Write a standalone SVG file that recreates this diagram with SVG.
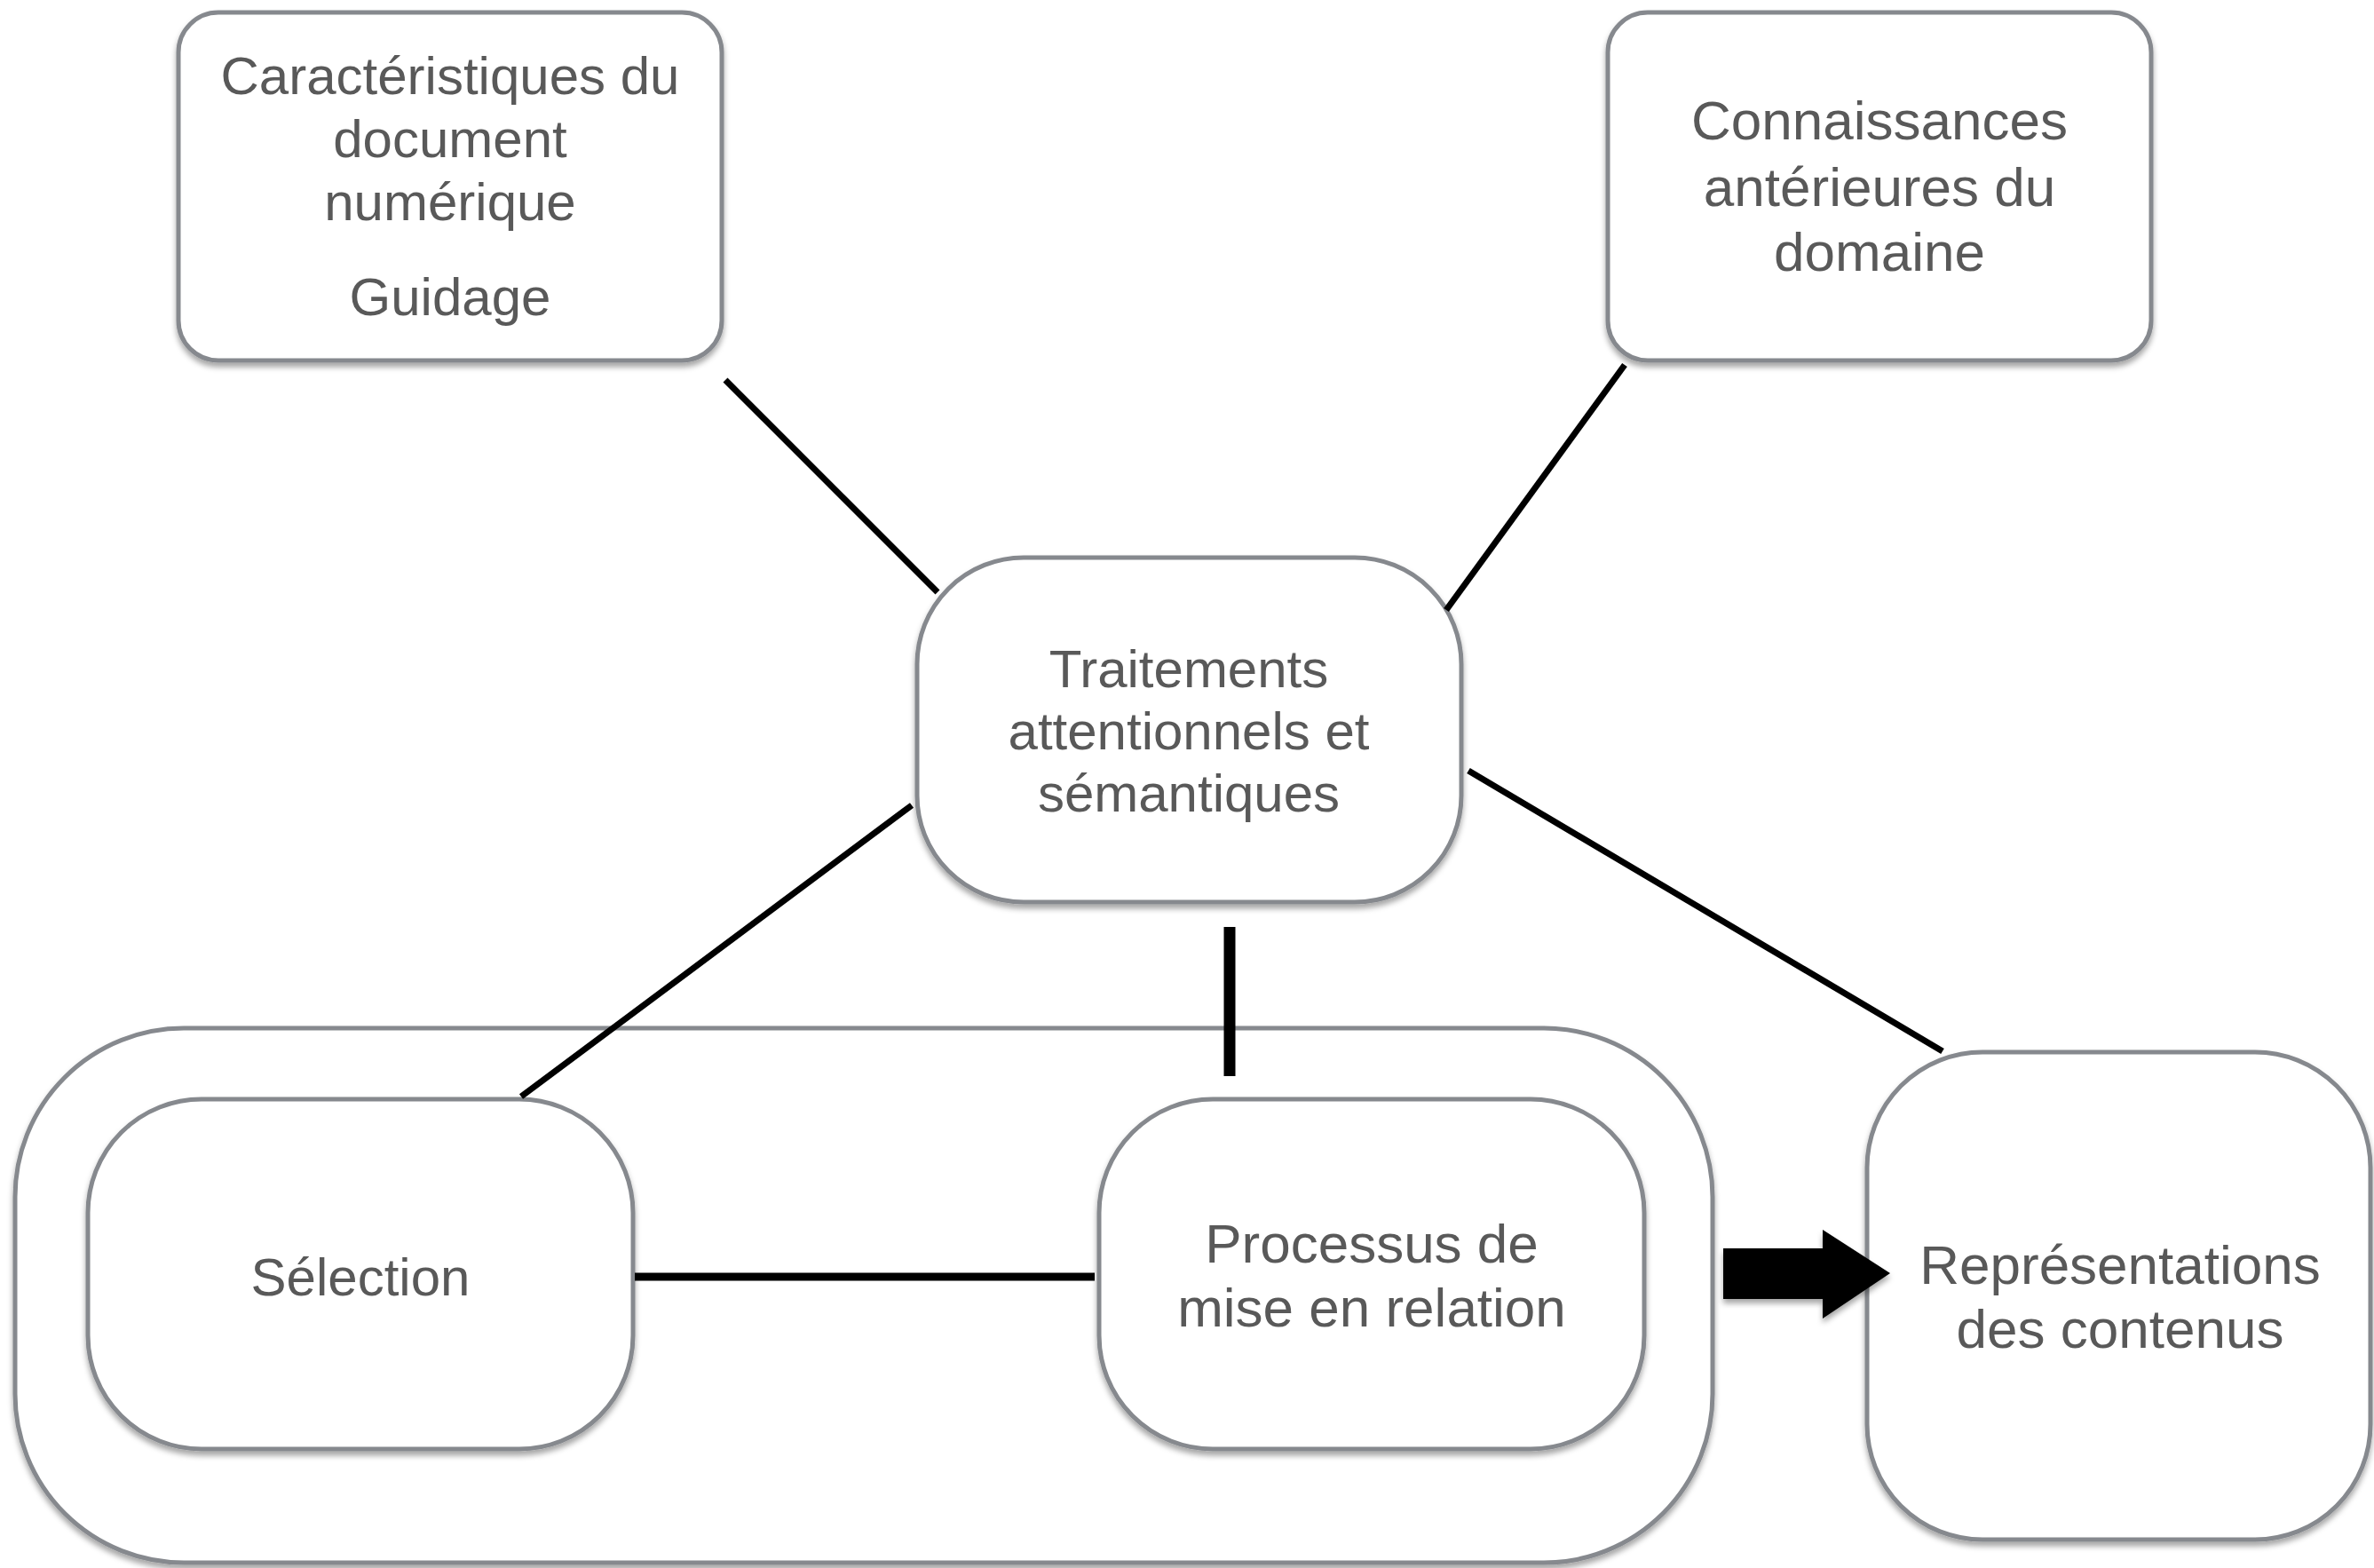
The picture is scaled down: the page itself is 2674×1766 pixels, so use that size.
<svg xmlns="http://www.w3.org/2000/svg" width="2674" height="1766" viewBox="0 0 2674 1766">
  <style>
    .box { fill: #ffffff; stroke: #86898e; stroke-width: 5; filter: url(#shadow); }
    .label { font-family: "Liberation Sans", Arial, sans-serif; font-size: 60px; fill: #595959; text-anchor: middle; }
    .big { font-size: 62px; }
    .link { stroke: #000000; stroke-width: 7; fill: none; }
  </style>
  <defs>
    <filter id="shadow" x="-10%" y="-10%" width="120%" height="125%">
      <feDropShadow dx="0" dy="5" stdDeviation="3" flood-color="#000000" flood-opacity="0.35"/>
    </filter>
  </defs>

  <rect width="2674" height="1766" fill="#ffffff"/>

  <!-- grouping frame around the two lower processes -->
  <g id="frame">
    <rect class="box" x="17" y="1158" width="1912" height="602" rx="190" ry="190"/>
  </g>

  <g id="caracteristiques">
    <rect class="box" x="201" y="14" width="612" height="392" rx="45" ry="45"/>
    <text class="label" x="507" y="106">Caractéristiques du</text>
    <text class="label" x="507" y="177">document</text>
    <text class="label" x="507" y="248">numérique</text>
    <text class="label" x="507" y="355">Guidage</text>
  </g>

  <g id="connaissances">
    <rect class="box" x="1811" y="14" width="612" height="392" rx="45" ry="45"/>
    <text class="label big" x="2117" y="157">Connaissances</text>
    <text class="label big" x="2117" y="232">antérieures du</text>
    <text class="label big" x="2117" y="305">domaine</text>
  </g>

  <g id="traitements">
    <rect class="box" x="1033" y="628" width="613" height="388" rx="120" ry="120"/>
    <text class="label" x="1339" y="774">Traitements</text>
    <text class="label" x="1339" y="844">attentionnels et</text>
    <text class="label" x="1339" y="914">sémantiques</text>
  </g>

  <g id="selection">
    <rect class="box" x="99" y="1238" width="614" height="394" rx="128" ry="128"/>
    <text class="label" x="406" y="1459">Sélection</text>
  </g>

  <g id="processus">
    <rect class="box" x="1238" y="1238" width="614" height="394" rx="128" ry="128"/>
    <text class="label big" x="1545" y="1422">Processus de</text>
    <text class="label big" x="1545" y="1494">mise en relation</text>
  </g>

  <g id="representations">
    <rect class="box" x="2103" y="1185" width="567" height="549" rx="130" ry="130"/>
    <text class="label big" x="2388" y="1446">Représentations</text>
    <text class="label big" x="2388" y="1518">des contenus</text>
  </g>

  <g id="connectors">
    <line class="link" x1="817" y1="428" x2="1056" y2="667"/>
    <line class="link" x1="1830" y1="411" x2="1629" y2="687"/>
    <line class="link" x1="1027" y1="907" x2="587" y2="1235"/>
    <line class="link" x1="1654" y1="868" x2="2188" y2="1184"/>
    <line class="link" x1="1385" y1="1044" x2="1385" y2="1212" style="stroke-width:13"/>
    <line class="link" x1="715" y1="1438" x2="1233" y2="1438" style="stroke-width:9"/>
    <polygon points="1941,1406 2053,1406 2053,1385 2129,1434 2053,1485 2053,1463 1941,1463" fill="#000000" filter="url(#shadow)"/>
  </g>
</svg>
